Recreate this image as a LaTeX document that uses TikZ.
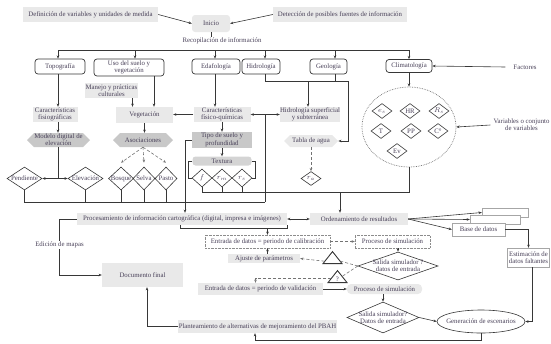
\documentclass[tikz,border=0pt]{standalone}
\usepackage{fontspec}
\setmainfont{Liberation Serif}
\usetikzlibrary{shapes.geometric,shapes.symbols,arrows.meta}

\definecolor{boxgray}{RGB}{233,233,233}
\definecolor{hexgray}{RGB}{200,200,200}
\definecolor{txtcol}{RGB}{72,64,88}
\definecolor{linecol}{RGB}{55,55,55}

\tikzset{
    every node/.style={font=\fontsize{6.8}{7.3}\selectfont, text=txtcol},
    graybox/.style={fill=boxgray, inner sep=0pt, align=center},
    catbox/.style={draw=linecol, line width=0.7pt, rounded corners=3pt, fill=white, inner sep=0pt, align=center},
    hexbox/.style={signal, signal to=east and west, fill=hexgray, inner sep=0pt, align=center},
    dia/.style={diamond, draw=linecol, line width=0.6pt, inner sep=0pt, fill=white},
    tribox/.style={isosceles triangle, isosceles triangle apex angle=78, isosceles triangle stretches, shape border rotate=90, draw=linecol, line width=0.9pt, inner sep=0pt},
    dotbox/.style={draw=black!45, densely dotted, inner sep=0pt, align=center},
    docbox/.style={draw=black!35, fill=white, inner sep=0pt, align=center},
    conn/.style={draw=linecol, line width=0.6pt},
    dconn/.style={conn, densely dashed, draw=black!55},
}

\begin{document}
\begin{tikzpicture}[x=1pt, y=-1pt, >={Stealth[length=3.2pt, width=2.6pt]}]
    \useasboundingbox (0,0) rectangle (551,343);

    \node[graybox, minimum width=135, minimum height=15] (defvar) at (90.5,14.5) {Definición de variables y unidades de medida};
    \node[graybox, rounded corners=3pt, minimum width=38, minimum height=17] (inicio) at (211,23.5) {Inicio};
    \node[graybox, minimum width=134, minimum height=15] (detec) at (340,14.5) {Detección de posibles fuentes de información};
    \node[inner sep=1pt] (recop) at (222,41) {Recopilación de información};
    \draw[conn,->] (defvar.east) -- (inicio.west);
    \draw[conn,->] (detec.west) -- (inicio.east);
    \draw[conn] (inicio.south) -- (inicio.south |- recop.north);

    % categorias
    \node[catbox, minimum width=50, minimum height=15] (topo) at (60,66.5) {Topografía};
    \node[catbox, minimum width=70, minimum height=17] (uso) at (129,67.5) {Uso del suelo y\\vegetación};
    \node[catbox, minimum width=48, minimum height=15] (edaf) at (216,66.5) {Edafología};
    \node[catbox, minimum width=38, minimum height=15] (hidro) at (261,66.5) {Hidrología};
    \node[catbox, minimum width=37, minimum height=15] (geo) at (328.5,66.5) {Geología};
    \node[catbox, minimum width=46, minimum height=13] (clima) at (409,66) {Climatología};
    \node[inner sep=0pt] (factores) at (525,67) {Factores};

    \coordinate (b1) at (58,50);
    \coordinate (b2) at (135,50);
    \coordinate (b3) at (215,50);
    \coordinate (b4) at (265,50);
    \coordinate (b5) at (335,50);
    \coordinate (b6) at (409,50);
    \draw[conn] (b1) -- (b6);
    \draw[conn,->] (b1) -- (b1 |- topo.north);
    \draw[conn,->] (b2) -- (b2 |- uso.north);
    \draw[conn,->] (b3) -- (b3 |- edaf.north);
    \draw[conn,->] (b4) -- (b4 |- hidro.north);
    \draw[conn,->] (b5) -- (b5 |- geo.north);
    \draw[conn,->] (b6) -- (b6 |- clima.north);
    \coordinate (fa) at ([xshift=-8pt]factores.west);
    \draw[conn,->] (fa) -- (clima.east);

    % topografia
    \node[graybox, minimum width=45, minimum height=15] (carfis) at (55,114.5) {Características\\fisiográficas};
    \node[hexbox, minimum width=63, minimum height=14] (mde) at (58.5,140) {Modelo digital de\\elevación};
    \node[dia, minimum width=35, minimum height=23, label=center:Pendiente] (pend) at (24.5,178.5) {};
    \node[dia, minimum width=35, minimum height=23, label=center:Elevación] (elev) at (85.5,178.5) {};
    \draw[conn,->] (b1 |- topo.south) -- (b1 |- carfis.north);
    \draw[conn,->] (b1 |- carfis.south) -- (b1 |- mde.north);
    \draw[conn,<->] (pend.east) -- (elev.west);
    \draw[conn] (b1 |- mde.south) -- (b1 |- pend.east);

    % vegetacion
    \node[graybox, minimum width=53, minimum height=15] (manejo) at (111.5,90.5) {Manejo y prácticas\\culturales};
    \node[graybox, minimum width=57, minimum height=16] (veg) at (144.5,115) {Vegetación};
    \node[hexbox, minimum width=60, minimum height=14] (asoc) at (143,140) {Asociaciones};
    \node[dia, minimum width=25, minimum height=23, label=center:Bosque] (bosque) at (121,178.5) {};
    \node[dia, minimum width=22, minimum height=23, label=center:Selva] (selva) at (144,178.5) {};
    \node[dia, minimum width=22, minimum height=23, label=center:Pasto] (pasto) at (166,178.5) {};
    \coordinate (uv) at ([xshift=25pt]uso.south);
    \coordinate (mv) at ([xshift=21pt]manejo.south);
    \draw[conn,->] (uv) -- (uv |- veg.north);
    \draw[conn,->] (mv) -- (mv |- veg.north);
    \draw[conn,->] (veg.south) -- (veg.south |- asoc.north);
    \draw[dconn,->] (asoc.south) -- ([yshift=4pt]bosque.north);
    \draw[dconn,->] (asoc.south) -- ([yshift=4pt]selva.north);
    \draw[dconn,->] (asoc.south) -- ([yshift=4pt]pasto.north);

    % edafologia
    \node[graybox, minimum width=57, minimum height=15] (carfq) at (222,114.5) {Características\\físico-químicas};
    \node[graybox, fill=hexgray, minimum width=60, minimum height=16] (tipo) at (222,140) {Tipo de suelo y\\profundidad};
    \node[graybox, fill=black!17, rounded corners=3pt, minimum width=59, minimum height=9] (textura) at (222,161) {Textura};
    \node[dia, minimum width=20, minimum height=18, label=center:$f$] (soilf) at (202,178) {};
    \node[dia, minimum width=20, minimum height=18, label=center:$r_m$] (soilm) at (222,178) {};
    \node[dia, minimum width=20, minimum height=18, label=center:$r_s$] (soils) at (242,178) {};
    \draw[conn,->] (b3 |- edaf.south) -- (b3 |- carfq.north);
    \draw[conn,->] (carfq.west) -- (carfq.west -| veg.east);
    \draw[conn,->] (carfq.south) -- (tipo.north);
    \draw[conn,->] (tipo.south) -- (textura.north);
    \draw[conn] (textura.west) -- ++(-4,0) |- (soilf.west);
    \draw[conn] (textura.east) -- ++(4,0) |- (soils.east);

    % hidrologia y geologia
    \node[graybox, minimum width=60, minimum height=15] (hidsup) at (310,114.5) {Hidrología superficial\\y subterránea};
    \node[hexbox, fill=boxgray, minimum width=54, minimum height=12] (tabla) at (311,141) {Tabla de agua};
    \node[dia, minimum width=20, minimum height=14, label=center:$r_a$] (ra) at (311,178.5) {};
    \coordinate (hg) at (308,81);
    \coordinate (gt) at (348,81);
    \draw[conn,<->] (carfq.east) -- (hidsup.west);
    \draw[conn] (b4 |- hidro.south) |- (gt);
    \draw[conn] (b5 |- geo.south) -- (b5 |- gt);
    \draw[conn,->] (hg) -- (hg |- hidsup.north);
    \draw[conn,->] (gt) |- (tabla.east);
    \draw[dconn,->] (tabla.south) -- (ra.north);

    % climatologia
    \node[ellipse, draw=black!55, densely dotted, line width=0.7pt, minimum width=94, minimum height=80] (climvar) at (409,127) {};
    \node[dia, minimum width=20, minimum height=15, label=center:$e_s$] (cv1) at (382,111) {};
    \node[dia, minimum width=20, minimum height=15, label=center:HR] (cv2) at (410,111) {};
    \node[dia, minimum width=20, minimum height=15, label=center:$R_s$] (cv3) at (439,111) {};
    \node[dia, minimum width=20, minimum height=15, label=center:T] (cv4) at (381,131) {};
    \node[dia, minimum width=20, minimum height=15, label=center:PP] (cv5) at (411,131) {};
    \node[dia, minimum width=20, minimum height=15, label=center:C°] (cv6) at (438,131) {};
    \node[dia, minimum width=20, minimum height=15, label=center:Ev] (cv7) at (397,151) {};
    \node[inner sep=0pt, align=center] (varconj) at (521.5,125) {Variables o conjunto\\de variables};
    \draw[conn,->] ([xshift=-3pt]varconj.west) -- (climvar.east);
    \draw[conn,->] (clima.south) -- (climvar.north);

    % procesamiento
    \node[graybox, minimum width=210, minimum height=12] (proc) at (182,219) {Procesamiento de información cartográfica (digital, impresa e imágenes)};
    \node[graybox, minimum width=98, minimum height=12] (orden) at (359,219) {Ordenamiento de resultados};
    \coordinate (bb) at (265,202);
    \coordinate (m1) at (265,114.5);
    \coordinate (cb) at (409,192);
    \coordinate (oin) at ([xshift=-19pt]orden.north);
    \coordinate (pin) at ([xshift=3pt]proc.north);
    \draw[conn] (m1) -- (bb);
    \draw[conn] (pend.south) |- (bb);
    \draw[conn] (elev.south) -- (elev.south |- bb);
    \draw[conn] (bosque.south) -- (bosque.south |- bb);
    \draw[conn] (selva.south) -- (selva.south |- bb);
    \draw[conn] (pasto.south) -- (pasto.south |- bb);
    \draw[conn,->] (tipo.west) -| (pin);
    \draw[conn] (soilf.south) |- (cb) -- (climvar.south);
    \draw[conn] (soilm.south) -- (soilm.south |- cb);
    \draw[conn] (soils.south) -- (soils.south |- cb);
    \draw[conn,->] (oin |- cb) -- (oin);
    \draw[conn,<->] (proc.east) -- (orden.west);

    % salidas
    \node[inner sep=1pt] (edicion) at (59.5,245) {Edición de mapas};
    \node[graybox, minimum width=81, minimum height=24] (docfin) at (142.5,275) {Documento final};
    \node[graybox, minimum width=159, minimum height=13] (plant) at (257.5,326.5) {Planteamiento de alternativas de mejoramiento del PBAH};
    \coordinate (dfin) at ([xshift=4.5pt]docfin.south);
    \coordinate (plin) at ([xshift=-2.5pt]plant.south);
    \draw[conn] (proc.west) -| (edicion.north);
    \draw[conn,->] (edicion.south) |- (docfin.west);
    \draw[conn,->] (plant.west) -| (dfin);

    % calibracion y validacion
    \node[dotbox, minimum width=125, minimum height=13] (entcal) at (267.5,241.5) {Entrada de datos = periodo de calibración};
    \node[dotbox, minimum width=75, minimum height=13] (procsim1) at (392.5,241.5) {Proceso de simulación};
    \node[dia, minimum width=80, minimum height=28, label={[align=center]center:Salida simulador ?\\datos de entrada}] (salida1) at (398,266) {};
    \node[graybox, minimum width=72, minimum height=9] (ajuste) at (264,258.5) {Ajuste de parámetros};
    \node[tribox, minimum width=19, minimum height=12] (tri1) at (332.5,259) {};
    \node[tribox, minimum width=19, minimum height=12, label={[yshift=-1.5pt]center:?}] (tri2) at (337.5,278) {};
    \node[graybox, minimum width=125, minimum height=12] (entval) at (260.5,289) {Entrada de datos = periodo de validación};
    \node[graybox, rounded corners=4pt, minimum width=75, minimum height=10] (procsim2) at (384.5,289) {Proceso de simulación};
    \node[dia, minimum width=72, minimum height=31, label={[align=center]center:Salida simulador?\\Datos de entrada}] (salida2) at (383,317.5) {};
    \node[ellipse, draw=linecol, line width=0.6pt, minimum width=88, minimum height=23, label=center:Generación de escenarios] (genesc) at (481,321.5) {};
    \coordinate (brL) at (180,228);
    \coordinate (brR) at (287,228);
    \coordinate (evin) at ([xshift=-5pt]entval.north);
    \draw[conn] (brL |- proc.south) -- (brL) -- (brR) -- (brR |- proc.south);
    \draw[conn,->] (entcal.north |- brL) -- (entcal.north);
    \draw[dconn,->] (entcal.east) -- (procsim1.west);
    \draw[conn,->] (salida1.north |- procsim1.south) -- (salida1.north);
    \draw[dconn] (salida1.west) -- (tri1.-15);
    \draw[dconn,->] (tri1.195) -- (ajuste.east);
    \draw[conn,->] (entcal.south |- ajuste.north) -- (entcal.south);
    \draw[dconn] (salida1.west) -- (tri2.20);
    \draw[dconn,->] (tri2.180) -| (evin);
    \draw[conn,->] (entval.east) -- (procsim2.west);
    \draw[conn,->] (salida2.north |- procsim2.south) -- (salida2.north);
    \draw[conn,->] (salida2.east) -- (genesc.west);
    \draw[conn,->] (genesc.south) -- ++(0,7) -| (plin);

    % base de datos
    \node[docbox, minimum width=46, minimum height=9] (box1) at (505,212.5) {};
    \node[docbox, minimum width=50, minimum height=9] (box2) at (495,219.5) {};
    \node[docbox, minimum width=53, minimum height=13] (based) at (478.5,229.5) {Base de datos};
    \node[docbox, minimum width=42, minimum height=19] (estim) at (528.5,257.5) {Estimación de\\datos faltantes};
    \coordinate (esout) at ([xshift=4pt]estim.south);
    \draw[conn,->] (orden.east) -- (box1.west);
    \draw[conn,->] (orden.east) -- (box2.west);
    \draw[conn,->] (orden.east) -- (based.west);
    \draw[conn,->] (based.east) -| (estim.north);
    \draw[conn,->] (esout) |- (genesc.east);
\end{tikzpicture}
\end{document}
